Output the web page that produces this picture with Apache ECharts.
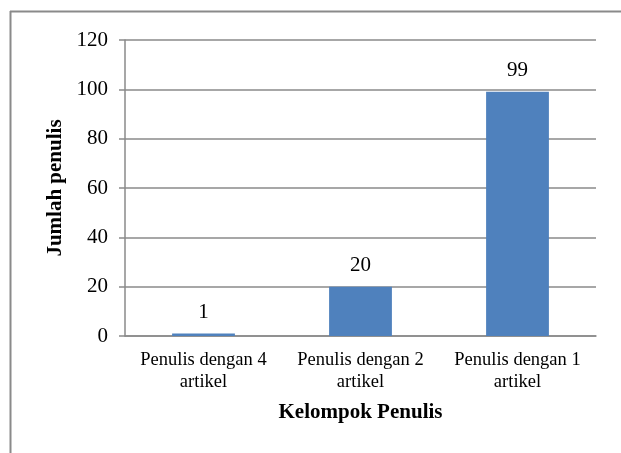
<!DOCTYPE html>
<html>
<head>
<meta charset="utf-8">
<script src="https://cdn.jsdelivr.net/npm/echarts@6/dist/echarts.min.js"></script>
<style>
html,body{margin:0;padding:0;background:#fff;}
#chart{width:621px;height:453px;}
</style>
</head>
<body>
<div id="chart"></div>
<script>
const categories = ["Penulis dengan 4\nartikel", "Penulis dengan 2\nartikel", "Penulis dengan 1\nartikel"];
const values = [1, 20, 99];
const yTicks = { min: 0, max: 120, interval: 20 };
const xName = "Kelompok Penulis";
const yName = "Jumlah penulis";

const font = "Liberation Serif";
const chart = echarts.init(document.getElementById('chart'), null, {renderer: 'canvas'});
chart.setOption({
  animation: false,
  backgroundColor: '#fff',
  textStyle: { fontFamily: font, color: '#000' },
  graphic: [
    { type: 'line', shape: { x1: 10.5, y1: 11, x2: 10.5, y2: 453 }, style: { stroke: '#8a8a8a', lineWidth: 2 } },
    { type: 'line', shape: { x1: 10, y1: 11.5, x2: 621, y2: 11.5 }, style: { stroke: '#8a8a8a', lineWidth: 2 } }
  ],
  grid: { left: 125, right: 25, top: 40, bottom: 117, containLabel: false },
  xAxis: {
    type: 'category',
    data: categories,
    name: xName,
    nameLocation: 'middle',
    nameGap: 66,
    nameTextStyle: { fontFamily: font, fontWeight: 'bold', fontSize: 21, color: '#000' },
    axisLine: { lineStyle: { color: '#8a8a8a', width: 1.5 } },
    axisTick: { show: false },
    axisLabel: { fontFamily: font, fontSize: 18.5, color: '#000', lineHeight: 22, margin: 13, interval: 0 }
  },
  yAxis: {
    type: 'value',
    min: yTicks.min, max: yTicks.max, interval: yTicks.interval,
    name: yName,
    nameLocation: 'middle',
    nameGap: 59,
    nameTextStyle: { fontFamily: font, fontWeight: 'bold', fontSize: 21, color: '#000' },
    axisLine: { show: true, lineStyle: { color: '#8a8a8a', width: 1.5 } },
    axisTick: { show: true, length: 6, lineStyle: { color: '#8a8a8a', width: 1.5 } },
    splitLine: { lineStyle: { color: '#8a8a8a', width: 1.5 } },
    axisLabel: { fontFamily: font, fontSize: 21, color: '#000', margin: 17 }
  },
  series: [{
    type: 'bar',
    data: values,
    barWidth: '40%',
    itemStyle: { color: '#4F81BD' },
    label: { show: true, position: 'top', distance: 11, fontFamily: font, fontSize: 21, color: '#000' }
  }]
});
</script>
</body>
</html>
